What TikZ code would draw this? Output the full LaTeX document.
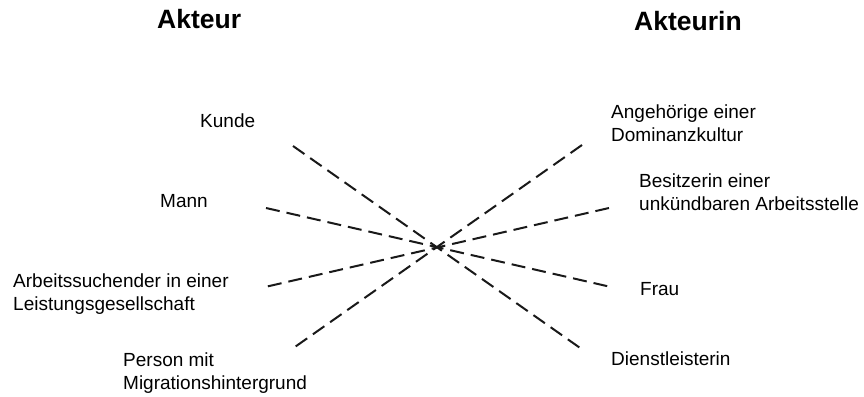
\documentclass[tikz,border=0pt]{standalone}
\usepackage{fontspec}
\setmainfont{Liberation Sans}
\begin{document}
\begin{tikzpicture}[x=1pt,y=-1pt,
  label/.style={anchor=base west,inner sep=0pt,align=left,font=\fontsize{19}{23}\selectfont},
  title/.style={anchor=base west,inner sep=0pt,font=\fontsize{26.5}{30}\selectfont\bfseries},
  link/.style={draw=black!90,line width=2pt,dash pattern=on 14pt off 7pt}]
\useasboundingbox (0,0) rectangle (864,396);

% column headings
\node[title] (akteur)   at (157,29) {Akteur};
\node[title] (akteurin) at (634,31) {Akteurin};

% left-hand roles (two-line labels are placed by their last baseline)
\node[label] (kunde)  at (200,127) {Kunde};
\node[label] (mann)   at (160,207) {Mann};
\node[label] (arbeit) at (13,310)  {Arbeitssuchender in einer\\Leistungsgesellschaft};
\node[label] (person) at (123,389) {Person mit\\Migrationshintergrund};

% right-hand roles
\node[label] (angeh)  at (611,141) {Angehörige einer\\Dominanzkultur};
\node[label] (besitz) at (639,210) {Besitzerin einer\\unkündbaren Arbeitsstelle};
\node[label] (frau)   at (640,295) {Frau};
\node[label] (dienst) at (611,365) {Dienstleisterin};

% ends of the dashed links
\coordinate (kunde-e)  at (293,146);
\coordinate (mann-e)   at (266,208);
\coordinate (arbeit-e) at (265,287);
\coordinate (person-e) at (292,349);
\coordinate (angeh-e)  at (582,145);
\coordinate (besitz-e) at (609,208);
\coordinate (frau-e)   at (611,287);
\coordinate (dienst-e) at (583,350);

\draw[link] (kunde-e)  -- (dienst-e);
\draw[link] (mann-e)   -- (frau-e);
\draw[link] (besitz-e) -- (arbeit-e);
\draw[link] (angeh-e)  -- (person-e);
\end{tikzpicture}
\end{document}
